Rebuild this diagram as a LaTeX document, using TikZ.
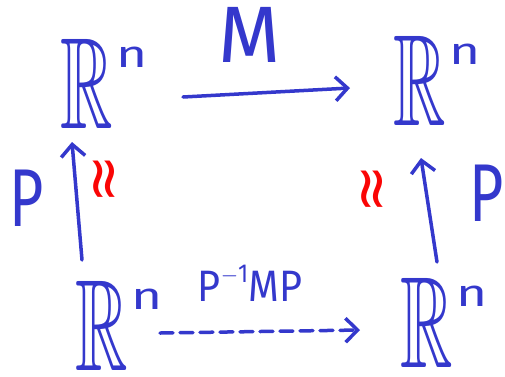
\documentclass[tikz,border=0pt]{standalone}
\usepackage{amssymb}
\usepackage{graphicx}
\usepackage{fontspec}
\setsansfont{Fira Sans}
\newfontfamily\djv{DejaVu Sans}
\usetikzlibrary{arrows.meta}
\definecolor{ink}{RGB}{52,56,204}
\definecolor{redink}{RGB}{250,5,5}
\newcommand{\Rn}{\scalebox{0.56}[1]{\fontsize{130}{132}\selectfont$\mathbb{R}$}\hspace{4pt}\raisebox{61pt}{\scalebox{1.4}[1]{\sffamily\fontsize{38}{40}\selectfont n}}}
\newcommand{\isomark}{\scalebox{1.55}[1.45]{\rotatebox{90}{\djv ≈}}}
\tikzset{
  space/.style={text=ink, inner sep=0pt, anchor=base west},
  lbl/.style={text=ink, inner sep=0pt},
  iso/.style={text=redink, inner sep=0pt, font=\fontsize{40}{42}\selectfont},
  arr/.style={draw=ink, line width=3.5pt, line cap=round, line join=round, -{Straight Barb[length=12pt,width=24pt,line width=3.5pt]}},
  dasharr/.style={arr, dash pattern=on 13pt off 7pt}
}
\begin{document}
\begin{tikzpicture}[x=1pt,y=-1pt]
\useasboundingbox (0,0) rectangle (505,376);
\node[space] (tl) at (60,128) {\Rn};
\node[space] (tr) at (393,125) {\Rn};
\node[space] (bl) at (75,370) {\Rn};
\node[space] (br) at (400,367) {\Rn};
\node[lbl] (m) at (250,35) {\sffamily\fontsize{80}{84}\selectfont M};
\node[lbl] (pmp) at (250,283) {\scalebox{0.9}[1]{\sffamily\fontsize{44}{46}\selectfont P\raisebox{19pt}{\fontsize{26}{28}\selectfont$-$1}MP}};
\node[lbl] (pl) at (27,198) {\scalebox{0.72}[1]{\sffamily\fontsize{82}{86}\selectfont P}};
\node[lbl] (pr) at (487,193) {\scalebox{0.72}[1]{\sffamily\fontsize{82}{86}\selectfont P}};
\node[iso] (il) at (108,179) {\isomark};
\node[iso] (ir) at (376,189) {\isomark};
\draw[arr] ([shift={(123,-31)}]tl.base west) -- ([shift={(-43,-37)}]tr.base west);
\draw[dasharr] ([shift={(85,-37)}]bl.base west) -- ([shift={(-40,-37)}]br.base west);
\draw[arr] ([shift={(7,-110)}]bl.base west) -- ([shift={(12,14)}]tl.base west);
\draw[arr] ([shift={(37,-105)}]br.base west) -- ([shift={(28,33)}]tr.base west);
\end{tikzpicture}
\end{document}
